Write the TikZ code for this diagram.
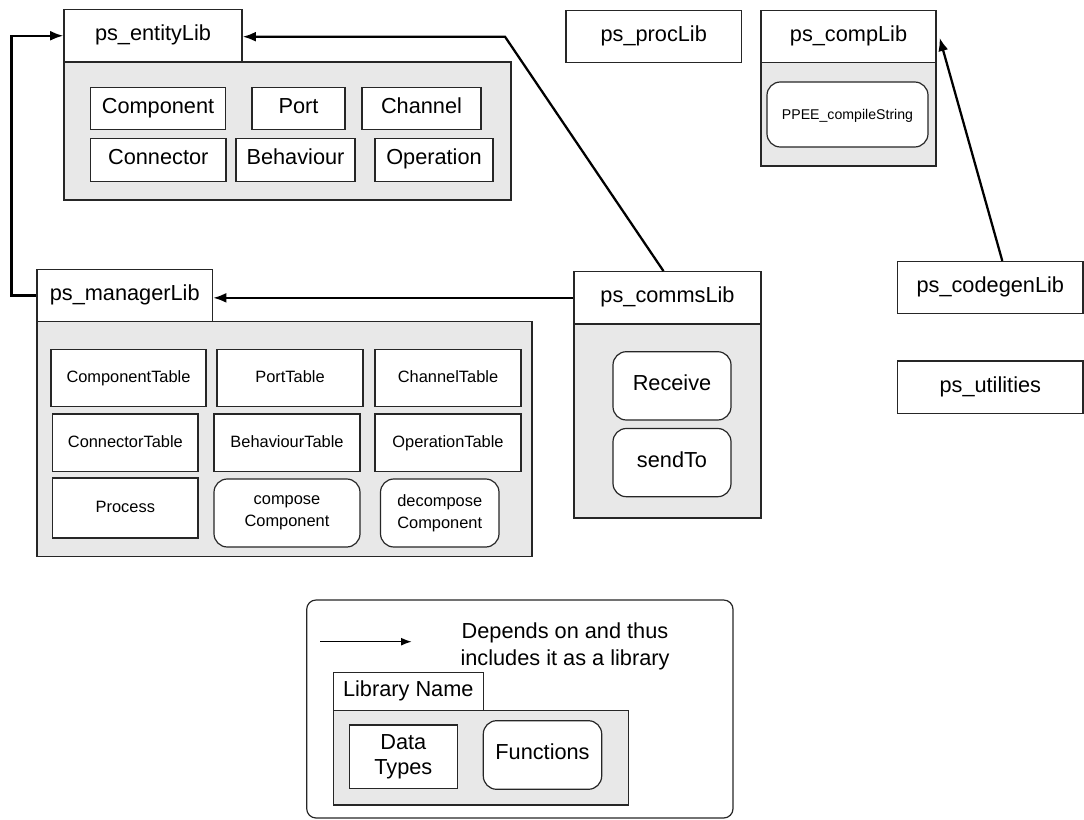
\documentclass[tikz,border=0pt]{standalone}
\usepackage{fontspec}
\setmainfont{Liberation Sans}
\usetikzlibrary{fit,calc,arrows.meta}

% type sizes used in the drawing
\newcommand\szL{\fontsize{16.3}{18.8}\selectfont}
\newcommand\szM{\fontsize{12.3}{16.5}\selectfont}
\newcommand\szS{\fontsize{10.6}{13}\selectfont}

\tikzset{
  boxline/.style={draw=black!85, line width=0.9pt, inner sep=0pt},
  libbody/.style={boxline, fill=black!9},
  libhead/.style={boxline, fill=white, label={[lblL, oneline]center:#1}},
  dtype/.style={boxline, fill=white},
  func/.style={dtype, rounded corners=10pt},
  oneline/.style={text height=0.72em, text depth=0em},
  lblL/.style={font=\szL, align=center, inner sep=0pt},
  lblM/.style={font=\szM, align=center, inner sep=0pt},
  lblS/.style={font=\szS, align=center, inner sep=0pt},
  tL/.style={label={[lblL, oneline]center:{#1}}},
  tM/.style={label={[lblM, oneline]center:{#1}}},
  tS/.style={label={[lblS, oneline]center:{#1}}},
  tLtwo/.style={label={[lblL]center:{#1}}},
  tMtwo/.style={label={[lblM]center:{#1}}},
  dep/.style={line width=1.7pt, -{Latex[length=10pt,width=7.5pt]}},
}

\begin{document}
\begin{tikzpicture}[x=0.75pt,y=-0.75pt]
\useasboundingbox (0,0) rectangle (1084,820);

% ---- ps_entityLib ----
\node[libbody, fit={(64,62)(511,200)}] (entB) {};
\node[libhead=ps\_entityLib, fit={(64,9.5)(242,62)}] (ent) {};
\node[dtype, tL=Component, fit={(90.5,87.3)(225.5,129.3)}] (e1) {};
\node[dtype, tL=Port, fit={(252,87.3)(345,129.3)}] (e2) {};
\node[dtype, tL=Channel, fit={(362,87.3)(481,129.3)}] (e3) {};
\node[dtype, tL=Connector, fit={(90.5,138.3)(226,181.7)}] (e4) {};
\node[dtype, tL=Behaviour, fit={(236,138.3)(355,181.7)}] (e5) {};
\node[dtype, tL=Operation, fit={(375,138.3)(493,181.7)}] (e6) {};

% ---- ps_procLib ----
\node[libhead=ps\_procLib, fit={(566,10.7)(741.5,62.7)}] (proc) {};

% ---- ps_compLib ----
\node[libbody, fit={(761,62.7)(936,166)}] (compB) {};
\node[libhead=ps\_compLib, fit={(761,10.7)(936,62.7)}] (comp) {};
\node[func, tS=PPEE\_compileString, fit={(767,82)(928,147)}] (cf) {};

% ---- ps_managerLib ----
\node[libbody, fit={(37,321.7)(532,556.7)}] (mgrB) {};
\node[libhead=ps\_managerLib, fit={(37,269.3)(212.5,321.7)}] (mgr) {};
\node[dtype, tM=ComponentTable, fit={(51,349.3)(206,406.7)}] (m1) {};
\node[dtype, tM=PortTable, fit={(217,349.3)(363,406.7)}] (m2) {};
\node[dtype, tM=ChannelTable, fit={(375,349.3)(521,406.7)}] (m3) {};
\node[dtype, tM=ConnectorTable, fit={(52.7,414)(198,471.7)}] (m4) {};
\node[dtype, tM=BehaviourTable, fit={(214,414)(360,471.7)}] (m5) {};
\node[dtype, tM=OperationTable, fit={(375,414)(521,471.7)}] (m6) {};
\node[dtype, tM=Process, fit={(52.7,478)(198,538)}] (m7) {};
\node[func, tMtwo=compose\\Component, fit={(214,479)(360,547)}] (m8) {};
\node[func, tMtwo=decompose\\Component, fit={(380.5,479)(499,547)}] (m9) {};

% ---- ps_commsLib ----
\node[libbody, fit={(574,324)(761,518)}] (commsB) {};
\node[libhead=ps\_commsLib, fit={(574,271.7)(761,324)}] (comms) {};
\node[func, tL=Receive, fit={(613,351.7)(731,420)}] (c1) {};
\node[func, tL=sendTo, fit={(613,428.5)(731,496.7)}] (c2) {};

% ---- stand-alone libraries ----
\node[libhead=ps\_codegenLib, fit={(897.6,261.5)(1083,313.3)}] (codegen) {};
\node[libhead=ps\_utilities, fit={(897.6,361)(1083,413.5)}] (util) {};

% ---- dependencies ----
\draw[dep] (mgr.west) -- ++(-25,0) |- (ent.west);
\coordinate (bend) at (505,36.7);
\draw[dep] ($(comms.north)+(-4,0)$) -- (bend) -- (bend -| ent.east);
\draw[dep] (comms.west) -- (comms.west -| mgr.east);
\draw[dep] ($(codegen.north)+(12,0)$) -- ($(comp.east)+(3,1)$);

% ---- key ----
\node[boxline, rounded corners=7pt, fit={(306.7,600)(733,818)}] (key) {};
\coordinate (ka) at (320,641.7);
\coordinate (kb) at (411.7,641.7);
\draw[line width=1.1pt, -{Latex[length=8pt,width=6pt]}] (ka) -- (kb);
\node[font=\fontsize{16.3}{20.3}\selectfont, align=center, inner sep=0pt] (keytext) at (565,646.5)
  {Depends on and thus\\includes it as a library};
\node[libbody, fit={(333.3,710.7)(628.3,805)}] (libB) {};
\node[libhead=Library Name, fit={(333.3,672.7)(483.3,710.7)}] (lib) {};
\node[dtype, tLtwo=Data\\Types, fit={(349.3,725)(457.3,788.3)}] (ldt) {};
\node[func, tL=Functions, fit={(483.3,720.7)(601.7,789.3)}] (lfn) {};
\end{tikzpicture}
\end{document}
